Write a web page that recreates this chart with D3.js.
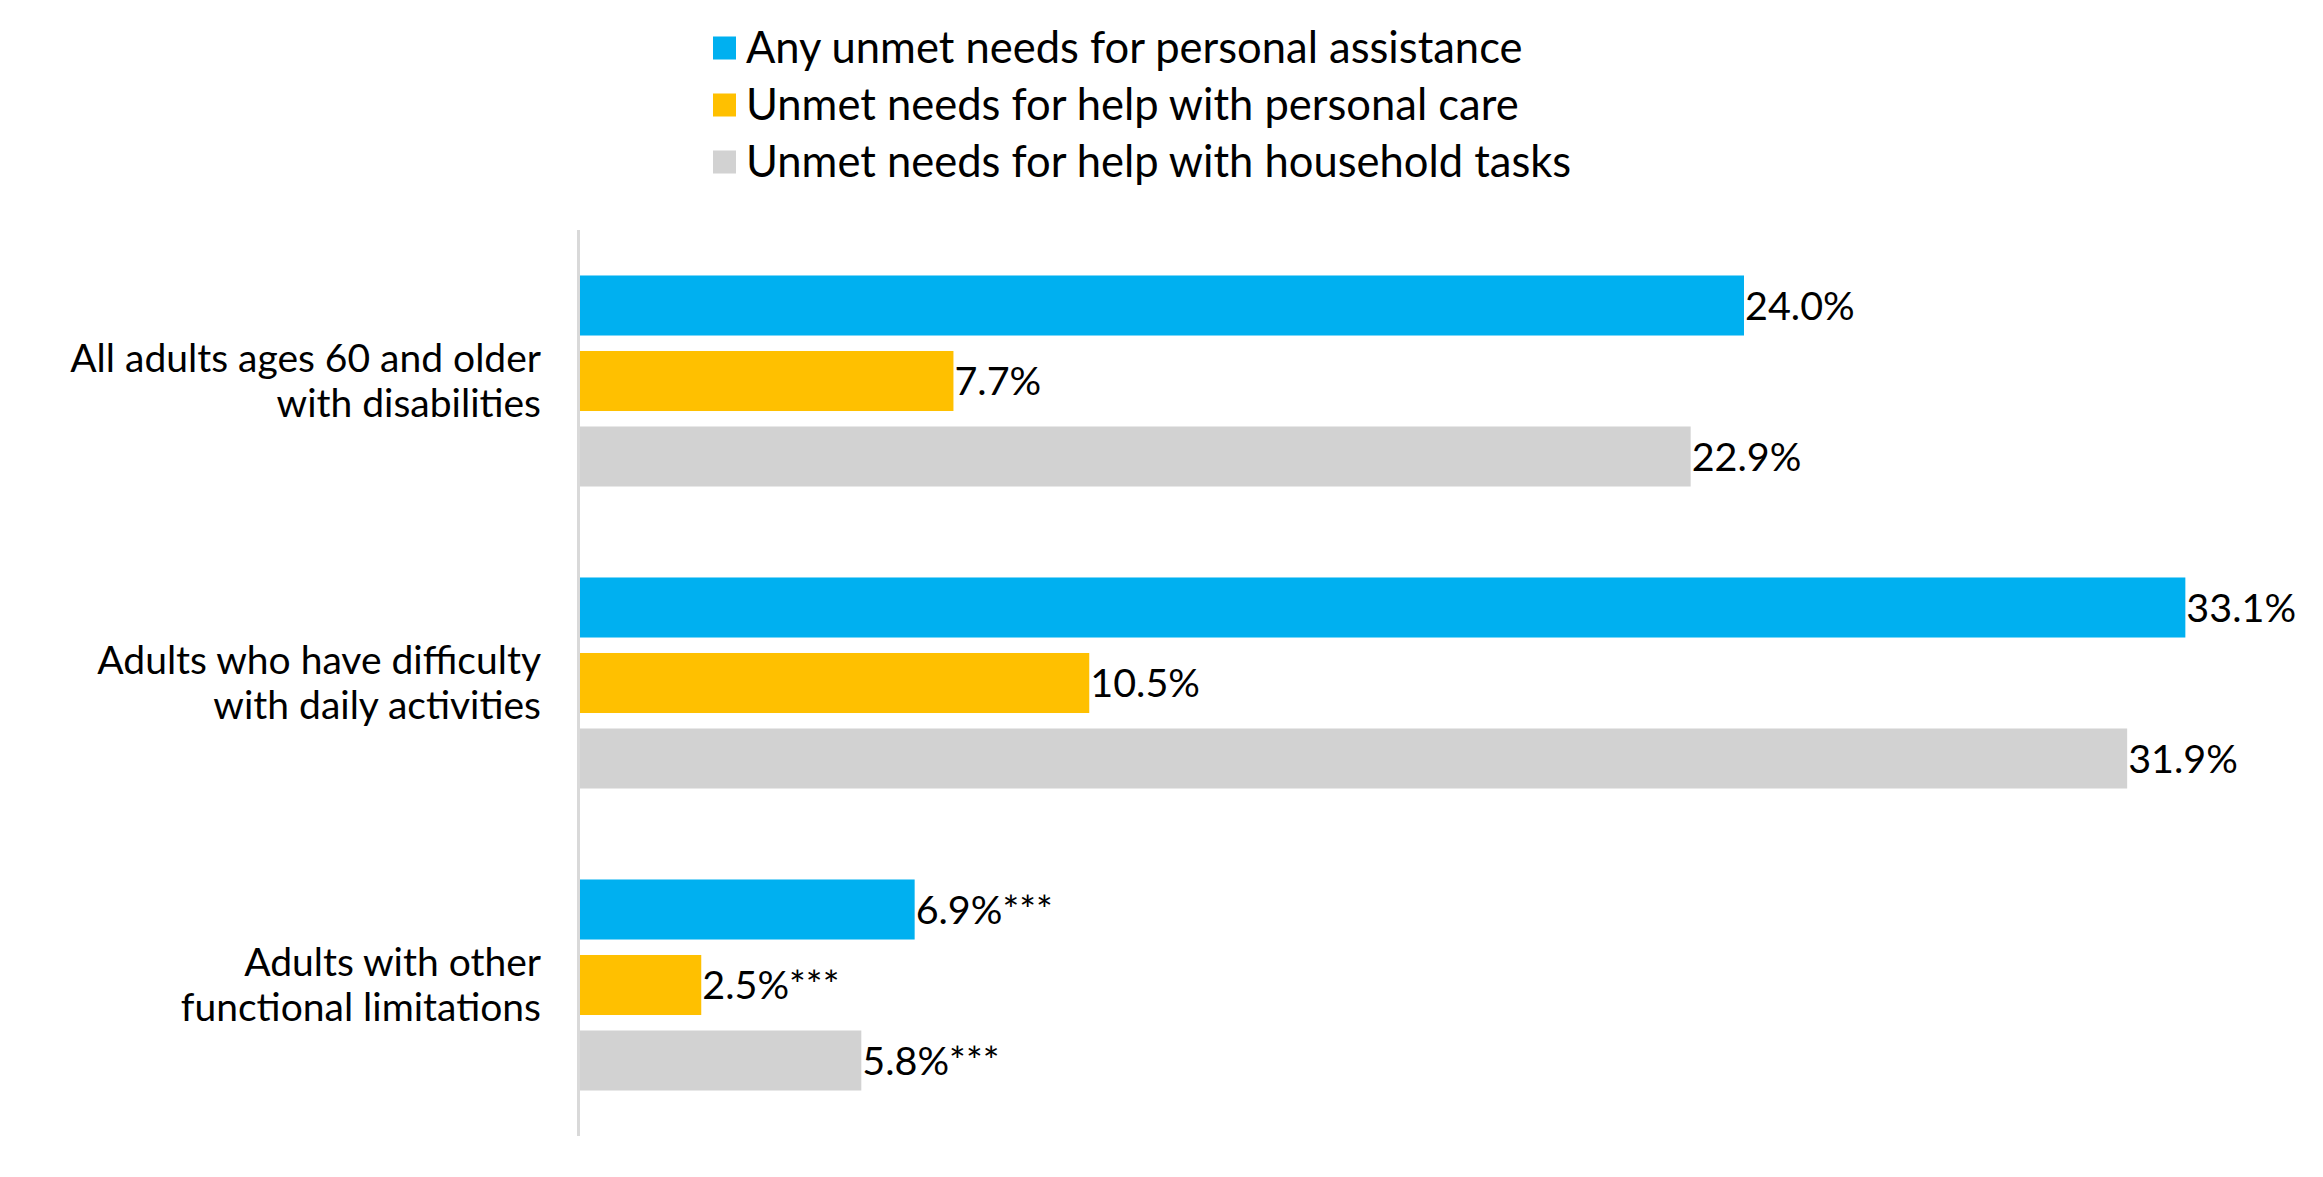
<!doctype html>
<html>
  <head>
    <script src="https://cdnjs.cloudflare.com/ajax/libs/d3/7.8.5/d3.min.js"></script>
    <style>
      body {
        margin: 0;
        background: #fff;
        font-family: Lato, "Open Sans", sans-serif;
      }
      .cat-label {
        font-size: 39px;
        text-anchor: end;
        fill: #000;
      }
      .val-label {
        font-size: 39.5px;
        fill: #000;
      }
      .legend text {
        font-size: 43.5px;
        fill: #000;
      }
    </style>
  </head>
  <body>
    <svg id="chart" width="2323" height="1177"></svg>
    <script>
      // categories (two lines each) and series
      var categories = [
        "All adults ages 60 and older|with disabilities",
        "Adults who have difficulty|with daily activities",
        "Adults with other|functional limitations"
      ];
      var seriesNames = [
        "Any unmet needs for personal assistance",
        "Unmet needs for help with personal care",
        "Unmet needs for help with household tasks"
      ];
      var anyUnmet = [24.0, 33.1, 6.9];
      var personalCare = [7.7, 10.5, 2.5];
      var household = [22.9, 31.9, 5.8];
      var significance = ["", "", "***"];

      var colors = ["#00B0F0", "#FFC000", "#D2D2D2"];

      var svg = d3.select("#chart");

      // build rows for the library
      var seriesValues = [anyUnmet, personalCare, household];
      var rows = categories.map((c, i) => ({
        cat: c,
        values: seriesValues.map((s, j) => ({ key: j, value: s[i], sig: significance[i] }))
      }));

      var x = d3.scaleLinear().domain([0, 35]).range([580, 580 + 35 * 48.5]);

      var y0 = d3.scaleBand()
        .domain(categories)
        .range([230, 1136])
        .paddingInner(0);

      var y1 = d3.scaleBand()
        .domain([0, 1, 2])
        .range([0, y0.bandwidth()])
        .paddingInner(0.205)
        .paddingOuter(0.6025);

      var groups = svg.selectAll("g.group")
        .data(rows)
        .enter()
        .append("g")
          .attr("class", "group")
          .attr("transform", d => "translate(0," + y0(d.cat) + ")");

      groups.selectAll("rect")
        .data(d => d.values)
        .enter()
        .append("rect")
          .attr("x", x(0))
          .attr("y", d => y1(d.key))
          .attr("width", d => x(d.value) - x(0))
          .attr("height", y1.bandwidth())
          .attr("fill", d => colors[d.key]);

      groups.selectAll("text.val-label")
        .data(d => d.values)
        .enter()
        .append("text")
          .attr("class", "val-label")
          .attr("x", d => x(d.value) + 1)
          .attr("y", d => y1(d.key) + y1.bandwidth() / 2)
          .attr("dy", "0.36em")
          .text(d => d.value.toFixed(1) + "%" + d.sig);

      // category labels
      var catText = svg.selectAll("text.cat-label")
        .data(categories)
        .enter()
        .append("text")
          .attr("class", "cat-label")
          .attr("x", 541)
          .attr("y", d => y0(d) + y0.bandwidth() / 2);

      catText.selectAll("tspan")
        .data(d => d.split("|"))
        .enter()
        .append("tspan")
          .attr("x", 541)
          .attr("dy", (d, i) => i === 0 ? -9 : 44.5)
          .text(d => d);

      // vertical axis line
      svg.append("line")
        .attr("x1", 578.5)
        .attr("x2", 578.5)
        .attr("y1", 230)
        .attr("y2", 1136)
        .attr("stroke", "#D9D9D9")
        .attr("stroke-width", 3);

      // legend
      var legend = svg.append("g").attr("class", "legend");
      var li = legend.selectAll("g")
        .data(seriesNames)
        .enter()
        .append("g")
          .attr("transform", (d, i) => "translate(713," + (48 + i * 57) + ")");

      li.append("rect")
        .attr("x", 0)
        .attr("y", -11.5)
        .attr("width", 23)
        .attr("height", 23)
        .attr("fill", (d, i) => colors[i]);

      li.append("text")
        .attr("x", 33)
        .attr("y", 0)
        .attr("dy", "0.34em")
        .text(d => d);
    </script>
  </body>
</html>
